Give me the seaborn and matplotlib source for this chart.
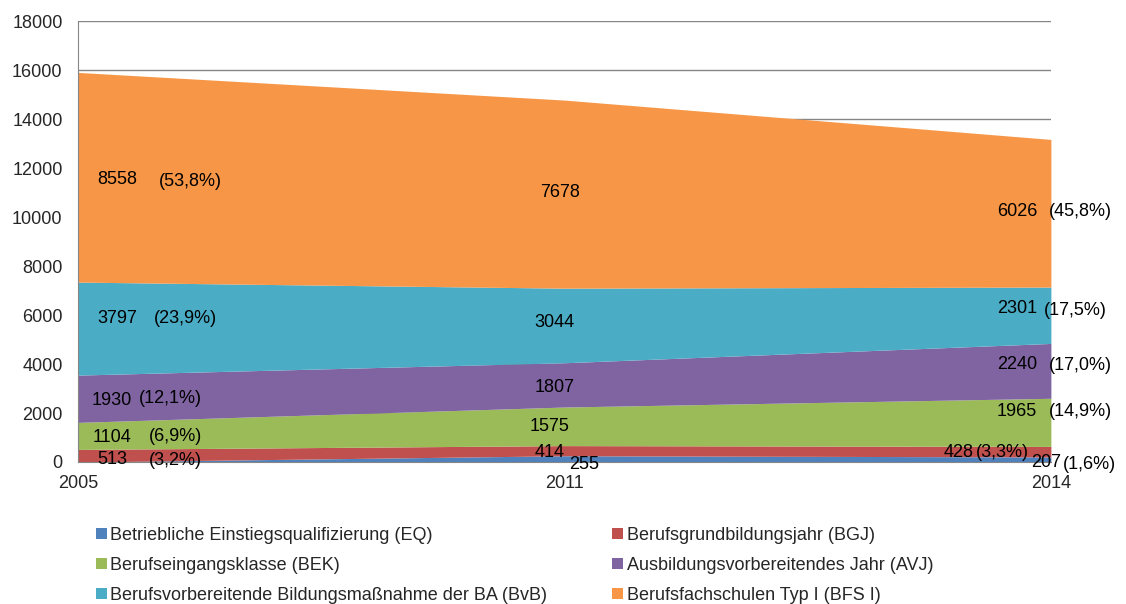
import matplotlib
matplotlib.use("Agg")
import matplotlib.pyplot as plt
from matplotlib.patches import Patch
import seaborn as sns

sns.set_style("white")
plt.rcParams['font.family'] = ['Liberation Sans', 'DejaVu Sans']

# Data
years = ['2005', '2011', '2014']
series_names = [
    'Betriebliche Einstiegsqualifizierung (EQ)',
    'Berufsgrundbildungsjahr (BGJ)',
    'Berufseingangsklasse (BEK)',
    'Ausbildungsvorbereitendes Jahr (AVJ)',
    'Berufsvorbereitende Bildungsmaßnahme der BA (BvB)',
    'Berufsfachschulen Typ I (BFS I)',
]
eq = [0, 255, 207]
bgj = [513, 414, 428]
bek = [1104, 1575, 1965]
avj = [1930, 1807, 2240]
bvb = [3797, 3044, 2301]
bfs = [8558, 7678, 6026]
colors = ['#4F81BD', '#C0504D', '#9BBB59', '#8064A2', '#4BACC6', '#F79646']

# percentage labels as printed in the chart (None = not shown)
pct_eq = [None, None, '(1,6%)']
pct_bgj = ['(3,2%)', None, '(3,3%)']
pct_bek = ['(6,9%)', None, '(14,9%)']
pct_avj = ['(12,1%)', None, '(17,0%)']
pct_bvb = ['(23,9%)', None, '(17,5%)']
pct_bfs = ['(53,8%)', None, '(45,8%)']

# label anchor (category position, y value) for number and percent text
num_pos = {
    'eq': [None, (1.04, -100), (1.99, -20)],
    'bgj': [(0.07, 100), (0.97, 400), (1.81, 400)],
    'bek': [(0.07, 1000), (0.97, 1450), (1.93, 2050)],
    'avj': [(0.07, 2500), (0.98, 3060), (1.93, 3980)],
    'bvb': [(0.08, 5850), (0.98, 5700), (1.93, 6280)],
    'bfs': [(0.08, 11540), (0.99, 11000), (1.93, 10220)],
}
pct_pos = {
    'eq': [None, None, (2.08, -100)],
    'bgj': [(0.2, 60), None, (1.9, 400)],
    'bek': [(0.2, 1050), None, (2.06, 2050)],
    'avj': [(0.19, 2600), None, (2.06, 3950)],
    'bvb': [(0.22, 5850), None, (2.05, 6200)],
    'bfs': [(0.23, 11450), None, (2.06, 10220)],
}

fig = plt.figure(figsize=(11.26, 6.04), dpi=100)
ax = fig.add_axes([0.0693, 0.2351, 0.864, 0.7301])

x = list(range(len(years)))
ax.stackplot(x, eq, bgj, bek, avj, bvb, bfs, colors=colors, linewidth=0, zorder=2)

ax.set_xlim(0, 2)
ax.set_ylim(0, 18000)
ax.set_yticks(range(0, 18001, 2000))
ax.set_xticks(x)
ax.set_xticklabels(years)
ax.tick_params(axis='both', labelsize=13, length=3.6, color='#868686', direction='out')
ax.tick_params(axis='x', pad=6)
ax.tick_params(axis='y', pad=7.5)
ax.yaxis.grid(True, color='#868686', lw=1, zorder=0)
ax.set_axisbelow(True)
for s in ['top', 'right']:
    ax.spines[s].set_visible(False)
for s in ['left', 'bottom']:
    ax.spines[s].set_color('#868686')
    ax.spines[s].set_zorder(3)

values = {'eq': eq, 'bgj': bgj, 'bek': bek, 'avj': avj, 'bvb': bvb, 'bfs': bfs}
pcts = {'eq': pct_eq, 'bgj': pct_bgj, 'bek': pct_bek, 'avj': pct_avj, 'bvb': pct_bvb, 'bfs': pct_bfs}
for key, vals in values.items():
    for i, v in enumerate(vals):
        p = num_pos[key][i]
        if p is not None:
            ax.text(p[0], p[1], str(v), ha='center', va='center', fontsize=13,
                    color='black', zorder=5, clip_on=False)
        q = pct_pos[key][i]
        if q is not None and pcts[key][i] is not None:
            ax.text(q[0], q[1], pcts[key][i], ha='center', va='center', fontsize=13,
                    color='black', zorder=5, clip_on=False)

# legend, row-wise order like the original
handles = [Patch(facecolor=c, edgecolor='none') for c in colors]
order = [0, 2, 4, 1, 3, 5]
fig.legend([handles[i] for i in order], [series_names[i] for i in order],
           ncol=2, loc='upper left', bbox_to_anchor=(0.085, 0.128),
           frameon=False, fontsize=13, handlelength=0.6, handleheight=0.6,
           handletextpad=0.2, columnspacing=3.6, labelspacing=0.72,
           borderaxespad=0, borderpad=0)

fig.savefig('out.png', dpi=100)
